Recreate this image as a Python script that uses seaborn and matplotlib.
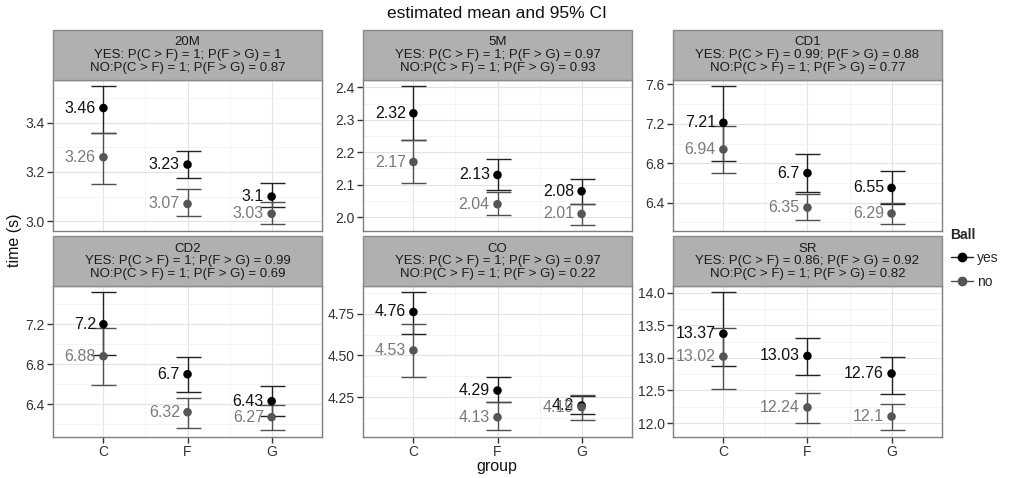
import numpy as np
import pandas as pd
import seaborn as sns
import matplotlib
matplotlib.use("Agg")
import matplotlib.pyplot as plt
from matplotlib.patches import Rectangle
from matplotlib.lines import Line2D
from matplotlib.ticker import FormatStrFormatter, FixedLocator

# ---------------- data ----------------
events = ["20M", "5M", "CD1", "CD2", "CO", "SR"]
groups = ["C", "F", "G"]

mean_yes = [[3.46, 3.23, 3.10], [2.32, 2.13, 2.08], [7.21, 6.70, 6.55],
            [7.20, 6.70, 6.43], [4.76, 4.29, 4.20], [13.37, 13.03, 12.76]]
lo_yes = [[3.36, 3.174, 3.056], [2.239, 2.085, 2.042], [6.823, 6.509, 6.386],
          [6.89, 6.52, 6.28], [4.631, 4.224, 4.151], [12.87, 12.74, 12.445]]
hi_yes = [[3.55, 3.286, 3.155], [2.405, 2.18, 2.118], [7.586, 6.89, 6.72],
          [7.518, 6.871, 6.58], [4.877, 4.369, 4.26], [14.005, 13.31, 13.02]]

mean_no = [[3.26, 3.07, 3.03], [2.17, 2.04, 2.01], [6.94, 6.35, 6.29],
           [6.88, 6.32, 6.27], [4.53, 4.13, 4.19], [13.02, 12.24, 12.10]]
lo_no = [[3.153, 3.02, 2.987], [2.105, 2.008, 1.977], [6.70, 6.22, 6.18],
         [6.589, 6.16, 6.14], [4.369, 4.054, 4.113], [12.52, 12.0, 11.89]]
hi_no = [[3.36, 3.132, 3.079], [2.239, 2.079, 2.042], [7.177, 6.485, 6.40],
         [7.163, 6.466, 6.393], [4.686, 4.224, 4.265], [13.46, 12.46, 12.29]]

p_yes_cf = ["1", "1", "0.99", "1", "1", "0.86"]
p_yes_fg = ["1", "0.97", "0.88", "0.99", "0.97", "0.92"]
p_no_cf = ["1", "1", "1", "1", "1", "1"]
p_no_fg = ["0.87", "0.93", "0.77", "0.69", "0.22", "0.82"]

y_ticks = [[3.0, 3.2, 3.4], [2.0, 2.1, 2.2, 2.3, 2.4], [6.4, 6.8, 7.2, 7.6],
           [6.4, 6.8, 7.2], [4.25, 4.50, 4.75], [12.0, 12.5, 13.0, 13.5, 14.0]]
y_limits = [(2.962, 3.574), (1.959, 2.4226), (6.118, 7.644),
            (6.072, 7.578), (4.012, 4.9125), (11.786, 14.096)]
tick_fmt = ["%.1f", "%.1f", "%.1f", "%.1f", "%.2f", "%.1f"]

balls = ["yes", "no"]

# -------------- long table --------------
rows = []
for i, ev in enumerate(events):
    for j, gr in enumerate(groups):
        rows.append(dict(event=ev, group=gr, Ball="yes", mean=mean_yes[i][j],
                         lo=lo_yes[i][j], hi=hi_yes[i][j]))
        rows.append(dict(event=ev, group=gr, Ball="no", mean=mean_no[i][j],
                         lo=lo_no[i][j], hi=hi_no[i][j]))
df = pd.DataFrame(rows)
df["x"] = df["group"].map({g: k for k, g in enumerate(groups)})

sns.set_theme(style="white")
plt.rcParams["font.family"] = ["Liberation Sans", "DejaVu Sans"]

pt_col = {"yes": "#000000", "no": "#555555"}
eb_col = {"yes": "#222222", "no": "#505050"}
tx_col = {"yes": "#111111", "no": "#7a7a7a"}

g = sns.FacetGrid(df, col="event", col_order=events, col_wrap=3,
                  sharey=False, sharex=True, height=2, aspect=1.3)


def draw(data, **kws):
    ax = plt.gca()
    for b in balls:
        d = data[data["Ball"] == b]
        ax.errorbar(d["x"], d["mean"],
                    yerr=[d["mean"] - d["lo"], d["hi"] - d["mean"]],
                    fmt="none", ecolor=eb_col[b], elinewidth=1.0,
                    capsize=9, capthick=1.0, zorder=2)
    sns.scatterplot(data=data, x="x", y="mean", hue="Ball",
                    palette=pt_col, hue_order=balls, s=38,
                    edgecolor="none", legend=False, ax=ax, zorder=3)
    for _, r in data.iterrows():
        ax.annotate(f"{r['mean']:g}", (r["x"], r["mean"]),
                    xytext=(-5.5, 0), textcoords="offset points",
                    ha="right", va="center", fontsize=11.5,
                    color=tx_col[r["Ball"]], zorder=4)


g.map_dataframe(draw)

fig = g.figure
fig.set_size_inches(10.17, 4.78)
fig.subplots_adjust(left=53 / 1017, right=942 / 1017,
                    top=1 - 80 / 478, bottom=1 - 437 / 478,
                    wspace=0.152, hspace=0.372)

for i, ax in enumerate(g.axes.flat):
    ax.set_title("")
    ax.set_xlim(-0.6, 2.6)
    ax.set_ylim(*y_limits[i])
    ax.set_xticks(range(len(groups)))
    ax.set_xticklabels(groups)
    ax.yaxis.set_major_locator(FixedLocator(y_ticks[i]))
    ax.yaxis.set_major_formatter(FormatStrFormatter(tick_fmt[i]))
    yt = y_ticks[i]
    step = yt[1] - yt[0]
    minors = [yt[0] - step / 2] + [t + step / 2 for t in yt]
    ax.yaxis.set_minor_locator(FixedLocator(minors))
    ax.set_xticks([0.5, 1.5], minor=True)
    ax.grid(True, which="major", color="#e3e3e3", lw=0.8, zorder=0)
    ax.grid(True, which="minor", color="#f3f3f3", lw=0.6, zorder=0)
    ax.set_axisbelow(True)
    for s in ax.spines.values():
        s.set_visible(True)
        s.set_color("#7f7f7f")
        s.set_linewidth(1.0)
    ax.tick_params(axis="both", which="major", length=4, width=1,
                   color="#333333", labelsize=10, labelcolor="#333333",
                   pad=2, left=True, bottom=True)
    ax.tick_params(axis="both", which="minor", length=0)
    ax.set_xlabel("")
    ax.set_ylabel("")
    if i < 3:
        ax.tick_params(axis="x", which="major", labelbottom=False, length=0)
    # strip header
    rect = Rectangle((0, 1.0), 1, 0.333, transform=ax.transAxes,
                     facecolor="#b0b0b0", edgecolor="#8a8a8a", lw=1.0,
                     clip_on=False, zorder=5)
    ax.add_patch(rect)
    strip = (f"{events[i]}\nYES: P(C > F) = {p_yes_cf[i]}; P(F > G) = {p_yes_fg[i]}"
             f"\nNO:P(C > F) = {p_no_cf[i]}; P(F > G) = {p_no_fg[i]}")
    ax.text(0.5, 1.1665, strip, transform=ax.transAxes, ha="center",
            va="center", fontsize=9.5, color="#1a1a1a", linespacing=1.08,
            zorder=6)

fig.text(497 / 1017, 1 - 13 / 478, "estimated mean and 95% CI",
         ha="center", va="center", fontsize=12.5, color="#111111")
fig.text(497 / 1017, 1 - 467 / 478, "group", ha="center", va="center",
         fontsize=11.5, color="#111111")
fig.text(14 / 1017, 1 - 240 / 478, "time (s)", ha="center", va="center",
         rotation=90, fontsize=11.5, color="#111111")

handles = [Line2D([0], [0], color=eb_col[b], lw=1.0, marker="o",
                  markersize=6, markerfacecolor=pt_col[b],
                  markeredgecolor=pt_col[b]) for b in balls]
leg = fig.legend(handles, balls, title="Ball", loc="upper left",
                 bbox_to_anchor=(945 / 1017, 1 - 222 / 478), frameon=False,
                 fontsize=10, title_fontsize=10, handlelength=1.6,
                 handletextpad=0.3, labelspacing=0.7, borderaxespad=0)
leg.get_title().set_fontweight("bold")
leg._legend_box.align = "left"

fig.savefig("out.png", dpi=100)
